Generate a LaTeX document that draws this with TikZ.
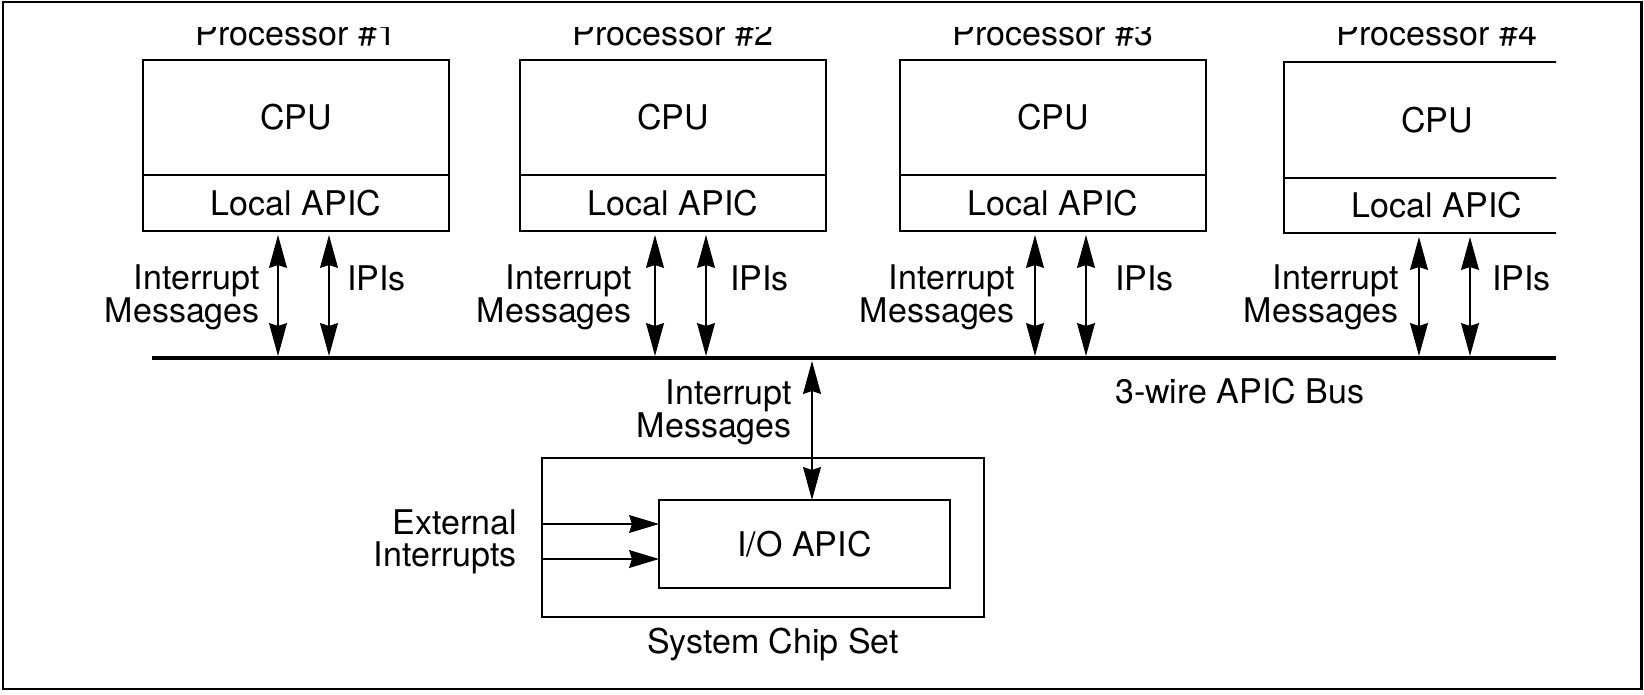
\documentclass[tikz,border=0pt]{standalone}
\usepackage{fontspec}
\setmainfont{TeX Gyre Heros}
\usetikzlibrary{arrows.meta,calc}
\newcommand\figfont{\fontsize{34pt}{32pt}\selectfont}
\begin{document}
\begin{tikzpicture}[x=1pt,y=-1pt,
  box/.style={draw, line width=1.8pt, inner sep=0pt, outer sep=0pt, font=\figfont},
  txt/.style={inner sep=0pt, font=\figfont},
  lbl/.style={inner sep=0pt, font=\figfont, align=right},
  dbl/.style={line width=1.1pt, {Stealth[length=33pt,width=18pt,inset=3pt]}-{Stealth[length=33pt,width=18pt,inset=3pt]}},
  one/.style={line width=1.1pt, -{Stealth[length=30pt,width=18pt,inset=3pt]}}]
\useasboundingbox (0,0) rectangle (1644,694);
\draw[line width=2.5pt] (3,2) rectangle (1641.5,689);

% processors
\node[box, anchor=north west, minimum width=306pt, minimum height=115pt] (cpu1) at (143,60) {CPU};
\node[box, anchor=north, minimum width=306pt, minimum height=56pt] (apic1) at (cpu1.south) {Local APIC};
\node[box, anchor=north west, minimum width=306pt, minimum height=115pt] (cpu2) at (520,60) {CPU};
\node[box, anchor=north, minimum width=306pt, minimum height=56pt] (apic2) at (cpu2.south) {Local APIC};
\node[box, anchor=north west, minimum width=306pt, minimum height=115pt] (cpu3) at (900,60) {CPU};
\node[box, anchor=north, minimum width=306pt, minimum height=56pt] (apic3) at (cpu3.south) {Local APIC};
\begin{scope}
\clip (0,0) rectangle (1556,694);
\node[box, anchor=north west, minimum width=306pt, minimum height=116pt] (cpu4) at (1284,62) {CPU};
\node[box, anchor=north, minimum width=306pt, minimum height=55pt] (apic4) at (cpu4.south) {Local APIC};
\end{scope}

% titles (clipped at top)
\begin{scope}
\clip (0,27) rectangle (1644,694);
\node[txt, anchor=base] (t1) at (cpu1.north |- 0,45) {Processor \#1};
\node[txt, anchor=base] (t2) at (cpu2.north |- 0,45) {Processor \#2};
\node[txt, anchor=base] (t3) at (cpu3.north |- 0,45) {Processor \#3};
\node[txt, anchor=base] (t4) at (cpu4.north |- 0,45) {Processor \#4};
\end{scope}

% bus
\coordinate (busL) at (152,358);
\coordinate (busR) at (1556,358);
\draw[line width=4.5pt] (busL) -- (busR);
\node[txt, anchor=base west] (busname) at (1115,403) {3-wire APIC Bus};

% processor arrows
\foreach \i in {1,2,3,4}{
  \draw[dbl, shorten >=2pt] ([xshift=-18pt,yshift=-4pt]apic\i.south) -- ([xshift=-18pt]apic\i.south |- busL);
  \draw[dbl, shorten >=2pt] ([xshift=33pt,yshift=-4pt]apic\i.south) -- ([xshift=33pt]apic\i.south |- busL);
}

% labels
\node[lbl, anchor=east] (im1) at (260,297) {Interrupt\\Messages};
\node[lbl, anchor=east] (im2) at (632,297) {Interrupt\\Messages};
\node[lbl, anchor=east] (im3) at (1015,297) {Interrupt\\Messages};
\node[lbl, anchor=east] (im4) at (1399,297) {Interrupt\\Messages};
\node[txt, anchor=base west] (ip1) at (347,290) {IPIs};
\node[txt, anchor=base west] (ip2) at (730,290) {IPIs};
\node[txt, anchor=base west] (ip3) at (1115,290) {IPIs};
\node[txt, anchor=base west] (ip4) at (1492,290) {IPIs};

% chip set
\node[box, minimum width=442pt, minimum height=159pt] (chip) at (763,537.5) {};
\node[box, minimum width=291pt, minimum height=88pt] (io) at (804.5,544) {I/O APIC};
\node[txt, anchor=base] (chipname) at (773,653) {System Chip Set};
\draw[dbl] ([xshift=7.5pt]io.north |- busL) ++(0,3) -- ([xshift=7.5pt]io.north);
\node[lbl, anchor=east] (im0) at (792,412) {Interrupt\\Messages};

\coordinate (ext1) at (chip.west |- 0,524);
\coordinate (ext2) at (chip.west |- 0,559);
\draw[one] (ext1) -- (ext1 -| io.west);
\draw[one] (ext2) -- (ext2 -| io.west);
\node[lbl, anchor=east] (ext) at (517,542) {External\\Interrupts};
\end{tikzpicture}
\end{document}
